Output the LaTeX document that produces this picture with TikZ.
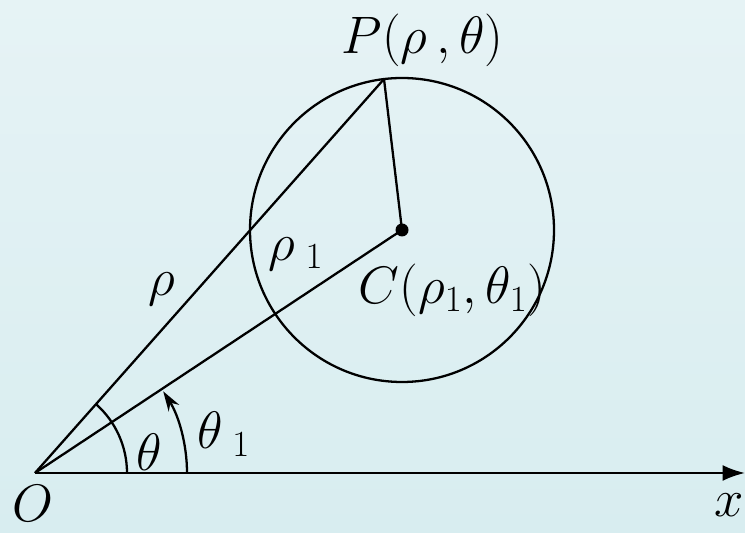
\RequirePackage{fix-cm}
\documentclass[tikz,border=0pt]{standalone}
\usetikzlibrary{arrows.meta, calc}
\definecolor{bgblue}{RGB}{216,237,240}
\definecolor{bgtop}{RGB}{230,243,245}
\begin{document}
\begin{tikzpicture}[line/.style={draw, line width=1.3pt}, lbl/.style={inner sep=0pt, font=\fontsize{30}{36}\selectfont}, angarc/.style={draw, line width=1.3pt}]

		\shade[top color=bgtop, bottom color=bgblue] (0, 0) rectangle (14.9, 10.66);
		\useasboundingbox (0, 0) rectangle (14.9, 10.66);

		\coordinate (O) at (0.7, 1.2);

		\coordinate (X) at (14.9, 1.2);

		\coordinate (C) at (8.04, 6.06);

		\coordinate (P) at ($(C)+(96.8:3.04)$);

		\draw[line] (C) circle (3.04);

		\fill (C) circle (0.13);

		\draw[line, -{Latex[length=0.45cm, width=0.32cm]}] (O) -- (X);

		\draw[line] (O) -- (P);

		\draw[line] (O) -- (C);

		\draw[line] (P) -- (C);

		\draw[angarc] ($(O)+(1.84, 0)$) arc (0:48.5:1.84);

		\draw[angarc, -{Stealth[length=0.4cm, width=0.25cm]}] ($(O)+(3.04, 0)$) arc (0:32.5:3.04);

		\node[lbl] (lP) at (8.45, 9.86) {$P(\rho\,,\theta)$};

		\node[lbl] (lC) at (9.05, 4.86) {$C(\rho_1,\theta_1)$};

		\node[lbl] (lrho) at (3.24, 4.88) {$\rho$};

		\node[lbl] (lrho1) at (5.92, 5.58) {$\rho_{\;1}$};

		\node[lbl] (lth) at (2.98, 1.62) {$\theta$};

		\node[lbl] (lth1) at (4.48, 1.98) {$\theta_{\;1}$};

		\node[lbl] (lO) at (0.66, 0.6) {$O$};

		\node[lbl] (lx) at (14.58, 0.55) {$x$};

	\end{tikzpicture}
\end{document}
